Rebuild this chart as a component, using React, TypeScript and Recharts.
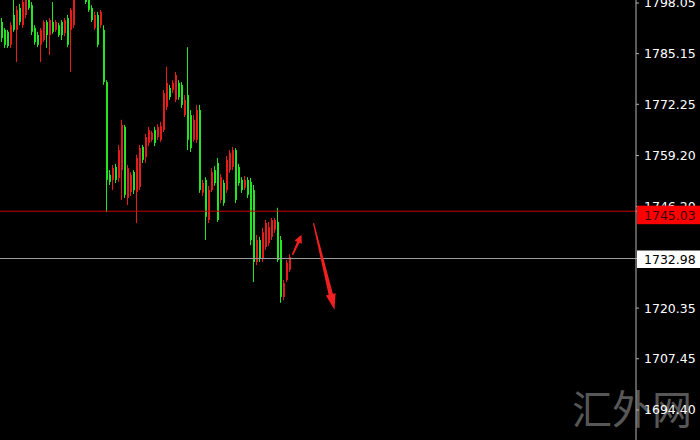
import React from 'react'
import { ComposedChart, Bar, XAxis, YAxis, ReferenceLine } from 'recharts'

// candle prices, read left to right (about 3px per bar)
const opens = [
  1793.2, 1791.2, 1790.7, 1787.4, 1795.0, 1791.2, 1796.8, 1792.4, 1795.0, 1800.1,
  1797.5, 1791.7, 1789.9, 1787.4, 1788.6, 1793.2, 1789.9, 1793.2, 1791.2, 1792.4,
  1793.2, 1790.4, 1794.2, 1791.2, 1792.4, 1801.4, 1800.1, 1802.6, 1800.8, 1798.8,
  1796.8, 1791.7, 1795.0, 1792.4, 1791.2, 1777.9, 1754.3, 1753.0, 1756.3, 1753.5,
  1755.5, 1766.5, 1748.4, 1749.9, 1755.0, 1749.9, 1751.2, 1761.4, 1758.8, 1762.4,
  1763.2, 1765.7, 1763.9, 1763.2, 1765.7, 1771.6, 1776.4, 1775.9, 1773.4, 1777.7,
  1777.2, 1769.5, 1774.6, 1769.5, 1763.2, 1763.2, 1770.8, 1749.7, 1753.0, 1742.8,
  1750.4, 1755.5, 1757.3, 1747.9, 1752.2, 1750.4, 1755.5, 1756.3, 1760.6, 1756.3,
  1753.0, 1751.0, 1753.0, 1752.5, 1750.4, 1732.1, 1737.7, 1733.1, 1735.9, 1736.9,
  1738.5, 1740.3, 1742.3, 1737.7, 1723.2, 1727.5, 1730.1,
]
const highs = [
  1794.2, 1791.7, 1791.2, 1793.2, 1798.8, 1797.3, 1797.8, 1800.1, 1800.8, 1801.4,
  1798.3, 1792.4, 1790.7, 1791.7, 1793.7, 1793.7, 1794.2, 1798.3, 1793.7, 1793.0,
  1793.7, 1794.2, 1795.0, 1796.8, 1800.3, 1803.9, 1803.9, 1803.4, 1801.9, 1799.6,
  1797.5, 1795.8, 1795.8, 1796.3, 1792.4, 1778.4, 1755.5, 1756.8, 1757.1, 1761.9,
  1768.3, 1767.0, 1756.8, 1755.0, 1755.5, 1759.4, 1761.9, 1761.9, 1764.7, 1766.5,
  1765.5, 1766.5, 1767.2, 1767.8, 1775.9, 1781.8, 1777.2, 1778.4, 1780.5, 1778.4,
  1777.9, 1774.6, 1786.8, 1770.8, 1769.5, 1772.1, 1772.1, 1753.0, 1753.7, 1751.5,
  1756.0, 1756.5, 1758.6, 1754.5, 1753.0, 1759.1, 1760.6, 1761.4, 1761.1, 1757.1,
  1753.7, 1754.0, 1753.7, 1753.5, 1751.7, 1739.0, 1738.5, 1740.8, 1742.8, 1742.3,
  1743.3, 1743.3, 1745.9, 1738.7, 1727.5, 1732.6, 1734.1,
]
const lows = [
  1788.1, 1786.6, 1786.6, 1786.6, 1790.7, 1783.0, 1792.4, 1791.7, 1794.2, 1796.3,
  1789.9, 1787.4, 1786.8, 1783.0, 1788.1, 1786.6, 1784.8, 1790.2, 1790.7, 1789.4,
  1788.6, 1789.6, 1786.8, 1780.5, 1791.7, 1799.3, 1799.6, 1800.1, 1797.8, 1795.8,
  1793.2, 1791.2, 1786.8, 1791.7, 1777.2, 1744.8, 1751.7, 1750.4, 1752.2, 1752.5,
  1747.9, 1748.4, 1746.6, 1748.9, 1749.4, 1742.0, 1750.4, 1757.3, 1757.3, 1761.6,
  1762.7, 1761.6, 1763.2, 1762.7, 1765.2, 1770.8, 1773.4, 1775.1, 1772.8, 1773.4,
  1771.3, 1769.0, 1760.6, 1760.1, 1762.7, 1762.4, 1749.7, 1748.9, 1737.7, 1742.0,
  1749.9, 1751.5, 1742.3, 1747.1, 1746.4, 1749.7, 1754.8, 1755.5, 1747.1, 1751.5,
  1749.7, 1750.4, 1748.4, 1736.4, 1727.0, 1731.3, 1732.1, 1732.1, 1735.2, 1736.2,
  1737.7, 1739.5, 1732.1, 1721.7, 1722.4, 1727.0, 1729.6,
]
const closes = [
  1789.1, 1787.4, 1787.1, 1792.4, 1791.2, 1796.3, 1793.2, 1798.3, 1799.3, 1796.8,
  1790.7, 1788.1, 1787.4, 1791.2, 1793.2, 1789.9, 1793.7, 1790.7, 1793.2, 1789.9,
  1789.9, 1793.7, 1787.4, 1796.3, 1799.3, 1800.1, 1802.6, 1800.8, 1798.3, 1796.3,
  1793.7, 1795.0, 1787.4, 1795.8, 1777.9, 1753.0, 1752.5, 1756.0, 1753.0, 1760.6,
  1767.0, 1749.2, 1756.0, 1754.3, 1750.4, 1758.6, 1761.1, 1758.1, 1763.9, 1765.7,
  1765.0, 1762.4, 1766.5, 1766.7, 1775.1, 1777.7, 1774.1, 1777.7, 1779.7, 1774.1,
  1772.1, 1773.4, 1763.2, 1761.1, 1768.3, 1770.8, 1750.4, 1752.2, 1743.6, 1750.4,
  1755.0, 1752.2, 1742.8, 1753.7, 1747.1, 1758.1, 1759.9, 1760.6, 1747.9, 1752.2,
  1750.4, 1753.0, 1749.2, 1737.7, 1732.1, 1737.7, 1733.1, 1739.7, 1742.0, 1741.0,
  1742.8, 1742.8, 1732.6, 1723.2, 1726.8, 1731.9, 1733.4,
]

const SLOTS = 212 // bar slots across the plot, most of the right side empty
const BID = 1745.03
const LAST = 1732.98
const priceTicks = [1798.05, 1785.15, 1772.25, 1759.2, 1746.2, 1720.35, 1707.45, 1694.4, BID, LAST]

// hand drawn arrows: [bar index, price] start and end
const smallArrow = [{ x: 97, y: 1733.9 }, { x: 100, y: 1739.0 }]
const bigArrow = [{ x: 104, y: 1742.0 }, { x: 111, y: 1719.9 }]

const GREEN = '#22e622'
const RED = '#e61c1c'

const rows = Array.from({ length: SLOTS }, (_, i) =>
  i < opens.length
    ? { i, open: opens[i], high: highs[i], low: lows[i], close: closes[i], range: [lows[i], highs[i]] }
    : { i, range: null }
)

const Candle = (props: any) => {
  const { x, y, width, height, payload } = props
  if (!payload || payload.open == null || isNaN(y) || isNaN(height)) return null
  const { open, close, high, low } = payload
  const k = high === low ? 0 : height / (high - low)
  const yo = y + (high - open) * k
  const yc = y + (high - close) * k
  const color = close < open ? GREEN : RED
  const bx = Math.round(x)
  const top = Math.min(yo, yc)
  const bh = Math.max(1, Math.abs(yc - yo))
  return (
    <g>
      <rect x={bx} y={y} width={1} height={Math.max(1, height)} fill={color} />
      <rect x={bx} y={top} width={Math.max(2, Math.round(width))} height={bh} fill={color} />
    </g>
  )
}

const arrowShape = (head: number, half: number, w0: number, w1: number) => (p: any) => {
  const { x1, y1, x2, y2 } = p
  if ([x1, y1, x2, y2].some((v) => v == null || isNaN(v))) return null
  const len = Math.hypot(x2 - x1, y2 - y1)
  const dx = (x2 - x1) / len
  const dy = (y2 - y1) / len
  const nx = -dy
  const ny = dx
  const bx = x2 - dx * head
  const by = y2 - dy * head
  const pts = [
    [x1 + nx * w0, y1 + ny * w0],
    [bx + nx * w1, by + ny * w1],
    [bx + nx * half, by + ny * half],
    [x2, y2],
    [bx - nx * half, by - ny * half],
    [bx - nx * w1, by - ny * w1],
    [x1 - nx * w0, y1 - ny * w0],
  ]
  return <polygon points={pts.map((q) => q.join(',')).join(' ')} fill="#f02020" />
}

const PriceTick = (props: any) => {
  const { x, y, payload } = props
  const v = payload.value
  const label = Number(v).toFixed(2)
  const font = { fontFamily: '"DejaVu Sans", sans-serif', fontSize: 12.5 }
  if (v === BID) {
    return (
      <g>
        <rect x={x - 7} y={y - 5.5} width={64} height={18.5} fill="#ff0000" />
        <text x={x} y={y + 4} dy="0.355em" fill="#3a0000" {...font}>{label}</text>
      </g>
    )
  }
  if (v === LAST) {
    return (
      <g>
        <rect x={x - 7} y={y - 8} width={64} height={17.5} fill="#ffffff" />
        <text x={x} y={y + 1} dy="0.355em" fill="#000000" {...font}>{label}</text>
      </g>
    )
  }
  return (
    <text x={x} y={y} dy="0.355em" fill="#ffffff" {...font}>{label}</text>
  )
}

export default function App() {
  return (
    <div style={{ position: 'relative', width: 700, height: 440, background: '#000', overflow: 'hidden' }}>
      <style>{'body { margin: 0; background: #000; }'}</style>
      <div style={{
        position: 'absolute',
        left: 572,
        top: 383,
        fontSize: 40,
        lineHeight: '48px',
        color: '#575757',
        fontFamily: '"Noto Sans CJK SC", sans-serif',
        whiteSpace: 'nowrap'
      }}>汇外网</div>
      <div style={{ position: 'absolute', left: 0, top: 0 }}>
        <ComposedChart width={700} height={440} data={rows} margin={{ top: 0, right: 0, bottom: 0, left: 0 }} barGap={0}>
          <XAxis dataKey="i" type="category" hide />
          <YAxis
            orientation="right"
            width={64}
            domain={[1686.76, 1798.81]}
            allowDataOverflow
            ticks={priceTicks}
            interval={0}
            tickSize={3}
            tickMargin={5}
            axisLine={{ stroke: '#b4b4b4' }}
            tickLine={{ stroke: '#b4b4b4' }}
            tick={<PriceTick />}
          />
          <Bar dataKey="range" barSize={2} isAnimationActive={false} shape={(p: any) => <Candle {...p} />} />
          <ReferenceLine y={BID} stroke="#c80000" strokeWidth={1} />
          <ReferenceLine y={LAST} stroke="#9a9a9a" strokeWidth={1} />
          <ReferenceLine segment={smallArrow} shape={arrowShape(8, 4, 0.8, 1.3)} />
          <ReferenceLine segment={bigArrow} shape={arrowShape(16, 5, 0.6, 2.2)} />
        </ComposedChart>
      </div>
    </div>
  )
}
